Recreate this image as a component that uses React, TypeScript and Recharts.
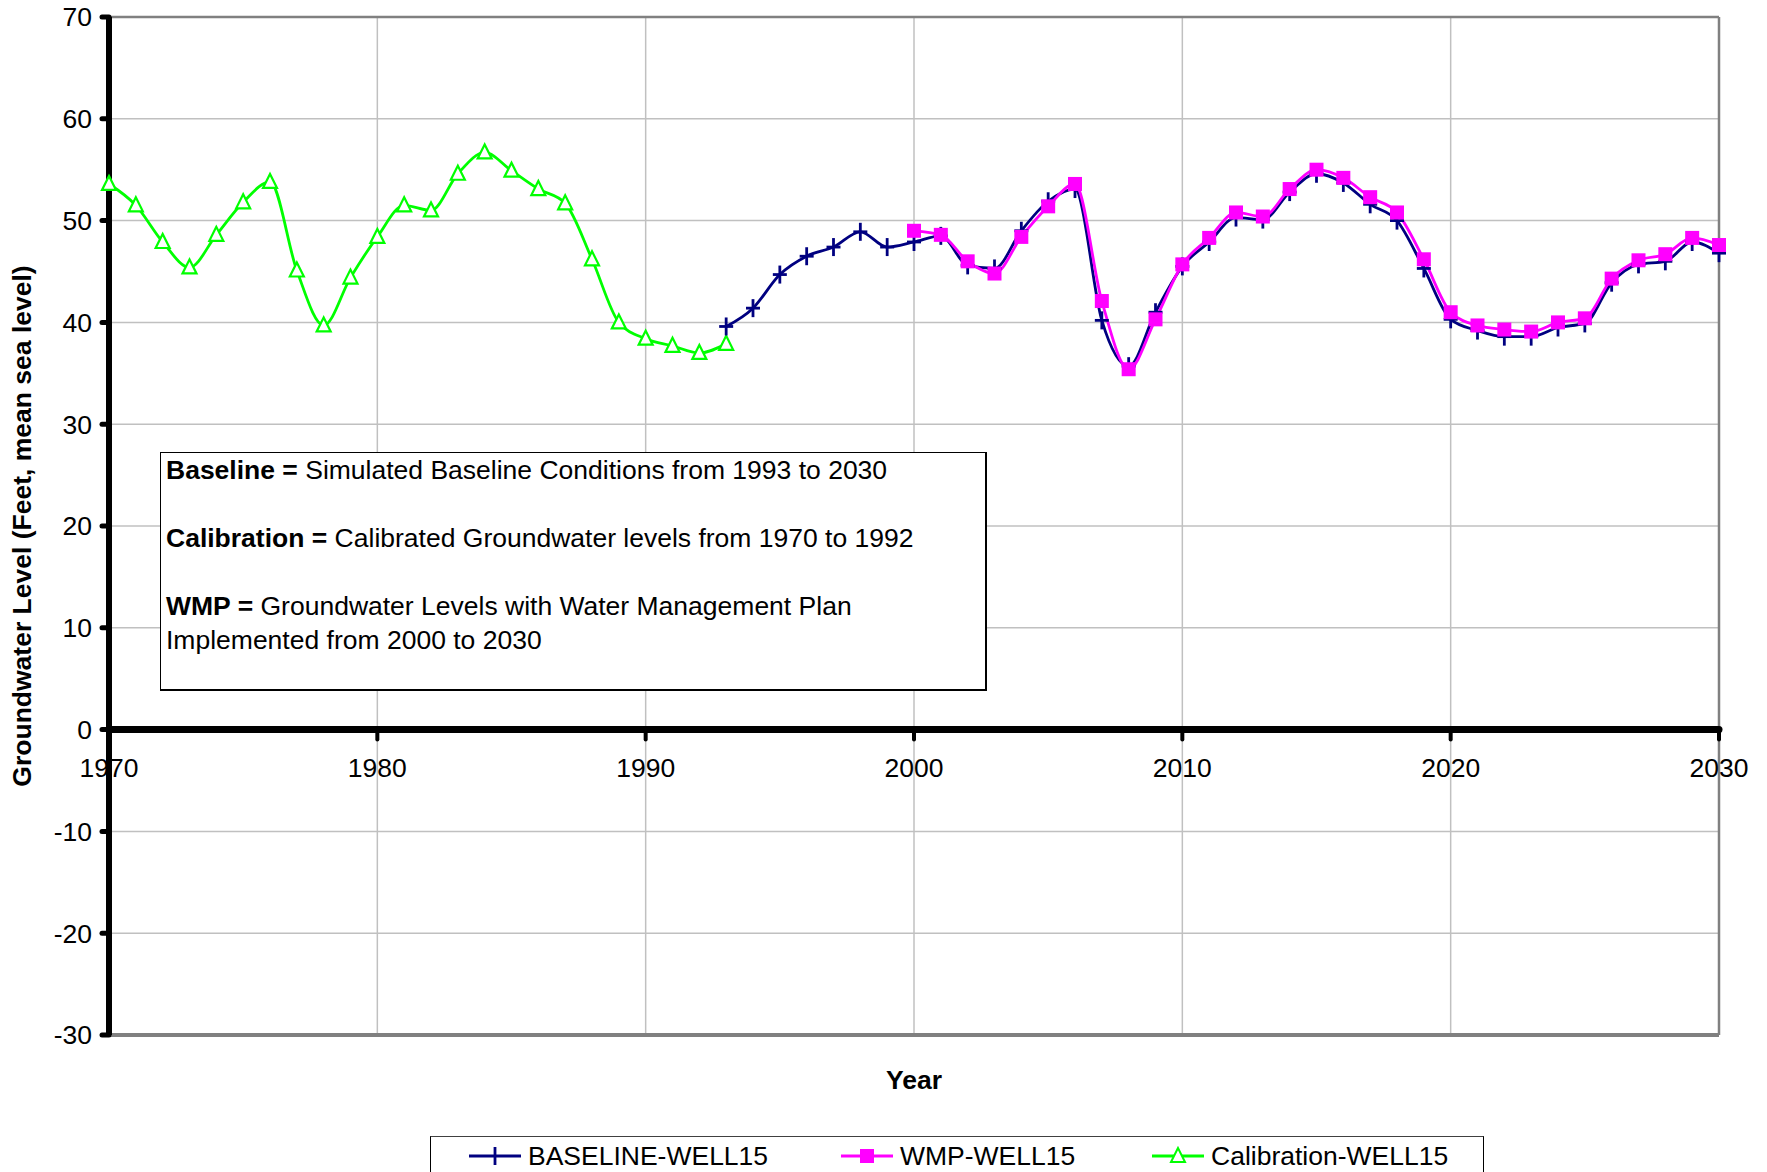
import {
  CartesianGrid,
  Line,
  LineChart,
  ReferenceLine,
  XAxis,
  YAxis,
} from "recharts";

const FONT = '"Liberation Sans", Arial, sans-serif';

const calibrationYears = [
  1970, 1971, 1972, 1973, 1974, 1975, 1976, 1977, 1978, 1979, 1980, 1981,
  1982, 1983, 1984, 1985, 1986, 1987, 1988, 1989, 1990, 1991, 1992, 1993,
];
const calibrationLevels = [
  53.6, 51.5, 47.9, 45.4, 48.6, 51.8, 53.8, 45.1, 39.7, 44.4, 48.4, 51.5,
  51.0, 54.6, 56.7, 54.9, 53.1, 51.7, 46.2, 40.0, 38.4, 37.7, 37.0, 37.9,
];

const baselineStart = 1993;
const baselineLevels = [
  39.6, 41.4, 44.7, 46.5, 47.4, 48.9, 47.4, 47.9, 48.5, 45.6, 45.3, 49.0,
  51.9, 53.1, 40.2, 35.7, 41.0, 45.5, 47.9, 50.3, 50.1, 52.8, 54.6, 53.7,
  51.6, 50.0, 45.3, 40.3, 39.2, 38.6, 38.6, 39.5, 39.9, 43.9, 45.7, 46.0,
  47.9, 46.8,
];

const wmpStart = 2000;
const wmpLevels = [
  49.0, 48.6, 46.0, 44.8, 48.4, 51.4, 53.6, 42.1, 35.4, 40.3, 45.7, 48.3,
  50.8, 50.4, 53.1, 55.0, 54.2, 52.3, 50.8, 46.2, 41.0, 39.7, 39.3, 39.1,
  40.0, 40.4, 44.3, 46.1, 46.7, 48.3, 47.6,
];

const yearTicks = [1970, 1980, 1990, 2000, 2010, 2020, 2030];
const levelTicks = [-30, -20, -10, 0, 10, 20, 30, 40, 50, 60, 70];

const seriesNames = {
  baseline: "BASELINE-WELL15",
  wmp: "WMP-WELL15",
  calibration: "Calibration-WELL15",
};

const data = Array.from({ length: 61 }, (_, i) => {
  const year = 1970 + i;
  const ci = calibrationYears.indexOf(year);
  const bi = year - baselineStart;
  const wi = year - wmpStart;
  return {
    year,
    calibration: ci >= 0 ? calibrationLevels[ci] : null,
    baseline: bi >= 0 && bi < baselineLevels.length ? baselineLevels[bi] : null,
    wmp: wi >= 0 && wi < wmpLevels.length ? wmpLevels[wi] : null,
  };
});

const W = 1767;
const H = 1172;
const PLOT_TOP = 17;
const PLOT_BOTTOM = 1035;
const ZERO_Y = PLOT_TOP + (PLOT_BOTTOM - PLOT_TOP) * 0.7;

function PlusDot(props: any) {
  const { cx, cy, value } = props;
  if (cx == null || cy == null || value == null) return <g />;
  return (
    <g stroke="#000080" strokeWidth={2.8}>
      <line x1={cx - 7} x2={cx + 7} y1={cy} y2={cy} />
      <line x1={cx} x2={cx} y1={cy - 9} y2={cy + 9} />
    </g>
  );
}

function SquareDot(props: any) {
  const { cx, cy, value } = props;
  if (cx == null || cy == null || value == null) return <g />;
  return <rect x={cx - 7} y={cy - 7} width={14} height={14} fill="#ff00ff" />;
}

function TriangleDot(props: any) {
  const { cx, cy, value } = props;
  if (cx == null || cy == null || value == null) return <g />;
  return (
    <polygon
      points={`${cx},${cy - 8} ${cx - 7},${cy + 6} ${cx + 7},${cy + 6}`}
      fill="#fff"
      stroke="#00ff00"
      strokeWidth={2.2}
    />
  );
}

function YearTick({ x, payload }: any) {
  return (
    <g>
      <line x1={x} x2={x} y1={ZERO_Y} y2={ZERO_Y + 10} stroke="#000" strokeWidth={4} strokeLinecap="round" />
      <text x={x} y={ZERO_Y + 38} textAnchor="middle" dominantBaseline="central" fontSize={26.5} fontFamily={FONT} fill="#000">
        {payload.value}
      </text>
    </g>
  );
}

function LegendIcon({ kind }: { kind: "baseline" | "wmp" | "calibration" }) {
  const color = kind === "baseline" ? "#000080" : kind === "wmp" ? "#ff00ff" : "#00ff00";
  return (
    <svg width={52} height={20} style={{ marginRight: 7 }}>
      <line x1={0} x2={52} y1={10} y2={10} stroke={color} strokeWidth={2.8} />
      {kind === "baseline" && <line x1={26} x2={26} y1={1} y2={19} stroke={color} strokeWidth={2.8} />}
      {kind === "wmp" && <rect x={19} y={3} width={14} height={14} fill={color} />}
      {kind === "calibration" && (
        <polygon points="26,2 19,16 33,16" fill="#fff" stroke={color} strokeWidth={2} />
      )}
    </svg>
  );
}

export default function App() {
  return (
    <div style={{ position: "absolute", left: 0, top: 0, width: W, height: H, background: "#fff", fontFamily: FONT, overflow: "hidden" }}>
      <LineChart width={W} height={H} data={data} margin={{ top: PLOT_TOP, right: 48, left: 0, bottom: 107 }}>
        <CartesianGrid stroke="#c0c0c0" strokeWidth={1.5} />
        <XAxis
          dataKey="year"
          type="number"
          domain={[1970, 2030]}
          ticks={yearTicks}
          height={30}
          axisLine={{ stroke: "#808080", strokeWidth: 4 }}
          tickLine={false}
          tick={<YearTick />}
          interval={0}
          label={{
            content: ({ viewBox }: any) => (
              <text
                x={viewBox.x + viewBox.width / 2}
                y={viewBox.y + 45}
                textAnchor="middle"
                dominantBaseline="central"
                fontSize={26.5}
                fontWeight="bold"
                fontFamily={FONT}
              >
                Year
              </text>
            ),
          }}
        />
        <YAxis
          type="number"
          domain={[-30, 70]}
          ticks={levelTicks}
          width={109}
          interval={0}
          allowDataOverflow
          axisLine={{ stroke: "#000", strokeWidth: 6 }}
          tickLine={{ stroke: "#000", strokeWidth: 5, strokeLinecap: "round" }}
          tickSize={7}
          tickMargin={10}
          tick={{ fontSize: 26.5, fill: "#000", fontFamily: FONT }}
          label={{
            content: ({ viewBox }: any) => {
              const cx = viewBox.x + 22;
              const cy = viewBox.y + viewBox.height / 2;
              return (
                <text
                  x={cx}
                  y={cy}
                  transform={`rotate(-90 ${cx} ${cy})`}
                  textAnchor="middle"
                  dominantBaseline="central"
                  fontSize={26.5}
                  fontWeight="bold"
                  fontFamily={FONT}
                >
                  Groundwater Level (Feet, mean sea level)
                </text>
              );
            },
          }}
        />
        <ReferenceLine y={70} stroke="#808080" strokeWidth={2.5} />
        <ReferenceLine x={2030} stroke="#808080" strokeWidth={2.5} />
        <ReferenceLine y={0} stroke="#000" strokeWidth={7} strokeLinecap="round" />
        <Line
          type="monotone"
          dataKey="calibration"
          name={seriesNames.calibration}
          stroke="#00ff00"
          strokeWidth={2.8}
          dot={<TriangleDot />}
          activeDot={false}
          isAnimationActive={false}
        />
        <Line
          type="monotone"
          dataKey="baseline"
          name={seriesNames.baseline}
          stroke="#000080"
          strokeWidth={2.8}
          dot={<PlusDot />}
          activeDot={false}
          isAnimationActive={false}
        />
        <Line
          type="monotone"
          dataKey="wmp"
          name={seriesNames.wmp}
          stroke="#ff00ff"
          strokeWidth={2.8}
          dot={<SquareDot />}
          activeDot={false}
          isAnimationActive={false}
        />
      </LineChart>

      <div
        style={{
          position: "absolute",
          left: 160,
          top: 452,
          width: 827,
          height: 239,
          boxSizing: "border-box",
          border: "1.5px solid #000",
          borderRightWidth: 2.5,
          borderBottomWidth: 2.5,
          background: "#fff",
          padding: "0 5px",
          fontSize: 26.5,
          lineHeight: "34px",
          color: "#000",
          whiteSpace: "nowrap",
        }}
      >
        <div><b>Baseline =</b> Simulated Baseline Conditions from 1993 to 2030</div>
        <div>&nbsp;</div>
        <div><b>Calibration =</b> Calibrated Groundwater levels from 1970 to 1992</div>
        <div>&nbsp;</div>
        <div><b>WMP =</b> Groundwater Levels with Water Management Plan</div>
        <div>Implemented from 2000 to 2030</div>
      </div>

      <div
        style={{
          position: "absolute",
          left: 430,
          top: 1136,
          width: 1054,
          height: 60,
          boxSizing: "border-box",
          border: "1.5px solid #000",
          borderTopColor: "#404040",
          background: "#fff",
          fontSize: 26.5,
          color: "#000",
        }}
      >
        {(["baseline", "wmp", "calibration"] as const).map((k, i) => (
          <div
            key={k}
            style={{ position: "absolute", left: [38, 410, 721][i], top: 5, display: "flex", alignItems: "center", height: 28 }}
          >
            <LegendIcon kind={k} />
            <span>{seriesNames[k]}</span>
          </div>
        ))}
      </div>
    </div>
  );
}
